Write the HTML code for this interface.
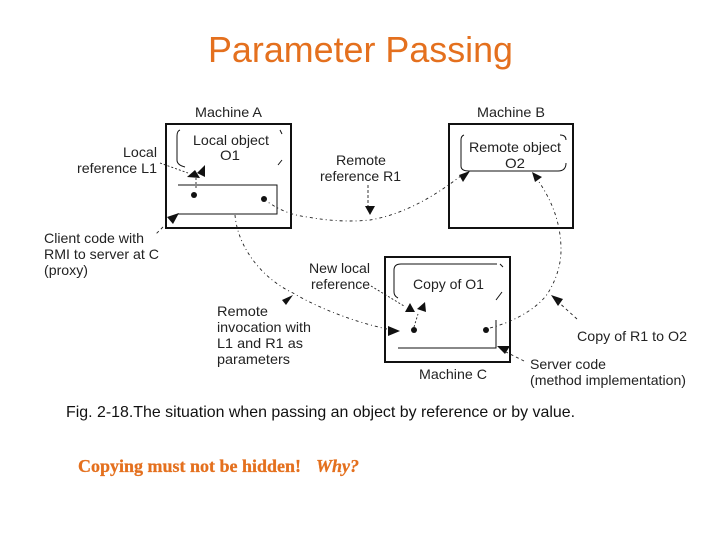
<!DOCTYPE html>
<html><head><meta charset="utf-8"><style>
html,body{margin:0;padding:0;background:#fff}
svg{display:block}
text{font-family:"Liberation Sans",sans-serif}
.l{font-size:14px;fill:#222}
</style></head><body>
<svg width="720" height="540" viewBox="0 0 720 540" xmlns="http://www.w3.org/2000/svg">
<text x="208" y="62" font-size="36" fill="#e4701e" textLength="305" lengthAdjust="spacingAndGlyphs">Parameter Passing</text>

<g fill="none" stroke="#111">
<rect x="166" y="124" width="125" height="104" stroke-width="2"/>
<rect x="449" y="124" width="124" height="104" stroke-width="2"/>
<rect x="385" y="257" width="125" height="105" stroke-width="2"/>
<path d="M178 185H277V214H177" stroke-width="1"/>
<path d="M185 167Q177 165 177 160V136Q177 131 180 130" stroke-width="1"/>
<path d="M280 130l2 4M278 165l4 -5" stroke-width="1"/>
<path d="M461 166Q461 171 469 171H558Q566 171 566 163M566 140Q566 135 560 135M464 135Q461 136 461 140V166" stroke-width="1"/>
<path d="M398 298Q394 296 394 292V270Q394 264 401 264H497M500 264l3 3M502 292l-6 8" stroke-width="1"/>
<path d="M398 348H496V320" stroke-width="1"/>
</g>

<g fill="#111">
<circle cx="194" cy="195" r="3"/><circle cx="264" cy="199" r="3"/>
<circle cx="414" cy="330" r="3"/><circle cx="486" cy="330" r="3"/>
<path d="M187 177L195 170L200 178Z"/><path d="M197 173L205 165L205 177Z"/>
<path d="M167 217L179 213L173 224Z"/>
<path d="M459 175L470 171L463 182Z"/><path d="M532 172L542 177L535 182Z"/>
<path d="M365 206L375 206L370 215Z"/>
<path d="M405 312L410 303L415 312Z"/><path d="M417 309L425 302L426 312Z"/>
<path d="M293 295L286 305L282 300Z"/>
<path d="M388 326L400 331L388 336Z"/>
<path d="M497 346L510 346L505 354Z"/>
<path d="M551 295L558 306L563 299Z"/>
</g>

<g fill="none" stroke="#222" stroke-width="0.9">
<path d="M160 163L188 173" stroke-dasharray="2 2"/>
<path d="M196 178V190" stroke-dasharray="2 2"/>
<path d="M163 227L155 235" stroke-dasharray="3 3"/>
<path d="M264 199C275 208 290 215 307 217C330 221 350 222 370 220C400 215 430 200 462 175" stroke-dasharray="3 3 1 3"/>
<path d="M368 185V206" stroke-dasharray="3 2"/>
<path d="M235 215C238 250 265 280 293 293C320 309 355 322 387 329" stroke-dasharray="3 3 1 3"/>
<path d="M371 286L404 306" stroke-dasharray="2 2"/>
<path d="M414 327L418 314" stroke-dasharray="2 2"/>
<path d="M490 328C520 320 540 305 548 293C556 280 561 265 561 250C561 225 553 200 534 175" stroke-dasharray="3 3 1 3"/>
<path d="M577 319L555 299" stroke-dasharray="3 3"/>
<path d="M524 361L506 352" stroke-dasharray="3 3"/>
</g>

<g lengthAdjust="spacingAndGlyphs">
<text class="l" x="195" y="117" textLength="67" lengthAdjust="spacingAndGlyphs">Machine A</text>
<text class="l" x="477" y="117" textLength="68" lengthAdjust="spacingAndGlyphs">Machine B</text>
<text class="l" x="419" y="379" textLength="68" lengthAdjust="spacingAndGlyphs">Machine C</text>
<text class="l" x="193" y="145" textLength="76" lengthAdjust="spacingAndGlyphs">Local object</text>
<text class="l" x="220" y="160" textLength="20" lengthAdjust="spacingAndGlyphs">O1</text>
<text class="l" x="123" y="157" textLength="34" lengthAdjust="spacingAndGlyphs">Local</text>
<text class="l" x="77" y="173" textLength="80" lengthAdjust="spacingAndGlyphs">reference L1</text>
<text class="l" x="44" y="243" textLength="100" lengthAdjust="spacingAndGlyphs">Client code with</text>
<text class="l" x="44" y="259" textLength="115" lengthAdjust="spacingAndGlyphs">RMI to server at C</text>
<text class="l" x="44" y="275" textLength="44" lengthAdjust="spacingAndGlyphs">(proxy)</text>
<text class="l" x="336" y="165" textLength="50" lengthAdjust="spacingAndGlyphs">Remote</text>
<text class="l" x="320" y="181" textLength="81" lengthAdjust="spacingAndGlyphs">reference R1</text>
<text class="l" x="469" y="152" textLength="92" lengthAdjust="spacingAndGlyphs">Remote object</text>
<text class="l" x="505" y="168" textLength="20" lengthAdjust="spacingAndGlyphs">O2</text>
<text class="l" x="309" y="273" textLength="61" lengthAdjust="spacingAndGlyphs">New local</text>
<text class="l" x="311" y="289" textLength="59" lengthAdjust="spacingAndGlyphs">reference</text>
<text class="l" x="413" y="289" textLength="71" lengthAdjust="spacingAndGlyphs">Copy of O1</text>
<text class="l" x="217" y="316" textLength="51" lengthAdjust="spacingAndGlyphs">Remote</text>
<text class="l" x="217" y="332" textLength="94" lengthAdjust="spacingAndGlyphs">invocation with</text>
<text class="l" x="217" y="348" textLength="86" lengthAdjust="spacingAndGlyphs">L1 and R1 as</text>
<text class="l" x="217" y="364" textLength="73" lengthAdjust="spacingAndGlyphs">parameters</text>
<text class="l" x="577" y="341" textLength="110" lengthAdjust="spacingAndGlyphs">Copy of R1 to O2</text>
<text class="l" x="530" y="369" textLength="76" lengthAdjust="spacingAndGlyphs">Server code</text>
<text class="l" x="530" y="385" textLength="156" lengthAdjust="spacingAndGlyphs">(method implementation)</text>
</g>

<text x="66" y="417" font-size="16" fill="#111" textLength="509" lengthAdjust="spacingAndGlyphs">Fig. 2-18.The situation when passing an object by reference or by value.</text>
<g font-size="18" font-weight="bold" fill="#e4701e" stroke="#e4701e" stroke-width="0.3">
<text x="78" y="472" style="font-family:'Liberation Serif',serif" textLength="223" lengthAdjust="spacingAndGlyphs">Copying must not be hidden!</text>
<text x="316" y="472" style="font-family:'Liberation Serif',serif" font-style="italic" textLength="43" lengthAdjust="spacingAndGlyphs">Why?</text>
</g>
</svg>
</body></html>
